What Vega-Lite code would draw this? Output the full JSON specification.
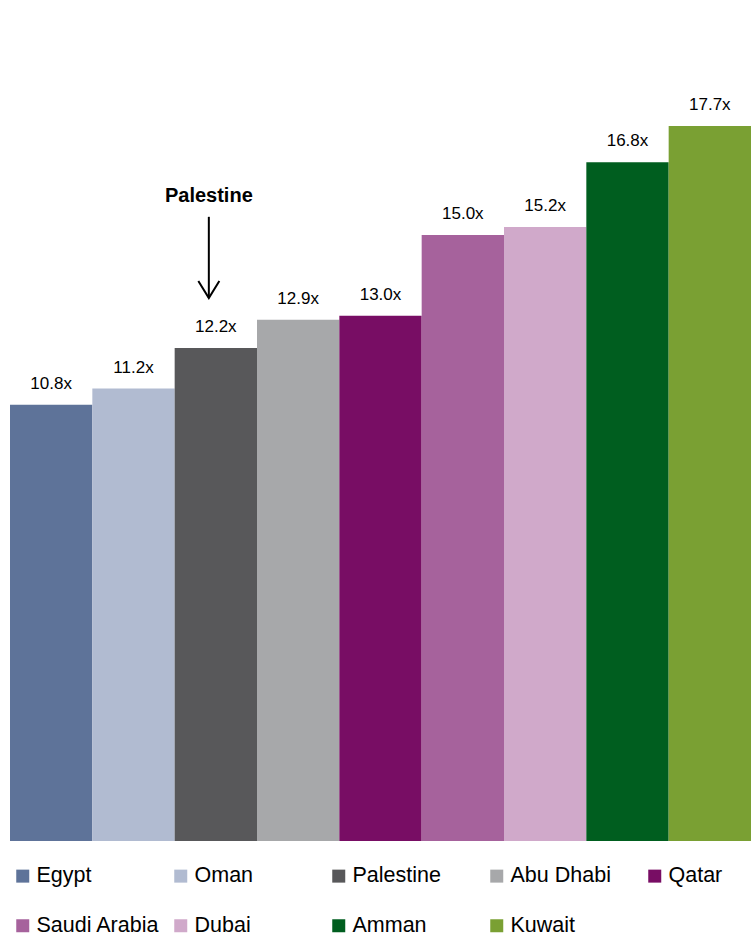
{
  "$schema": "https://vega.github.io/schema/vega-lite/v6.json",
  "width": 741,
  "height": 808,
  "autosize": {"type": "none"},
  "padding": {"left": 10, "top": 33, "right": 0, "bottom": 95},
  "background": "white",
  "config": {
    "view": {"stroke": null},
    "font": "Liberation Sans",
    "legend": {"gridAlign": "all"}
  },
  "datasets": {
    "multiples": [
      {"market": "Egypt", "pe": 10.8},
      {"market": "Oman", "pe": 11.2},
      {"market": "Palestine", "pe": 12.2},
      {"market": "Abu Dhabi", "pe": 12.9},
      {"market": "Qatar", "pe": 13.0},
      {"market": "Saudi Arabia", "pe": 15.0},
      {"market": "Dubai", "pe": 15.2},
      {"market": "Amman", "pe": 16.8},
      {"market": "Kuwait", "pe": 17.7}
    ],
    "callout": [
      {"market": "Palestine", "caption": "Palestine", "arrow_top": 15.45, "arrow_tip": 13.44, "caption_y": 15.82}
    ]
  },
  "layer": [
    {
      "data": {"name": "multiples"},
      "mark": {"type": "bar"},
      "encoding": {
        "x": {
          "field": "market", "type": "nominal", "sort": null,
          "scale": {"domain": ["Egypt", "Oman", "Palestine", "Abu Dhabi", "Qatar", "Saudi Arabia", "Dubai", "Amman", "Kuwait"], "paddingInner": 0, "paddingOuter": 0},
          "axis": null
        },
        "y": {"field": "pe", "type": "quantitative", "scale": {"domain": [0, 20], "nice": false}, "axis": null},
        "color": {
          "field": "market", "type": "nominal",
          "scale": {
            "domain": ["Egypt", "Oman", "Palestine", "Abu Dhabi", "Qatar", "Saudi Arabia", "Dubai", "Amman", "Kuwait"],
            "range": ["#5E7399", "#B1BBD1", "#58585A", "#A7A8AA", "#780D64", "#A6629C", "#D0A9CA", "#005E1F", "#7AA033"]
          },
          "legend": {
            "orient": "none",
            "legendX": 2,
            "legendY": 832,
            "direction": "horizontal",
            "columns": 5,
            "columnPadding": 10,
            "rowPadding": 27,
            "title": null,
            "symbolType": "square",
            "symbolSize": 169,
            "symbolStrokeWidth": 0,
            "symbolOpacity": 1,
            "labelFont": "Liberation Sans",
            "labelFontSize": 21.5,
            "labelColor": "#000000",
            "labelOffset": 3,
            "labelLimit": 300
          }
        }
      }
    },
    {
      "data": {"name": "multiples"},
      "transform": [{"calculate": "format(datum.pe, '.1f') + 'x'", "as": "pe_label"}],
      "mark": {"type": "text", "baseline": "alphabetic", "dy": -16, "fontSize": 17, "color": "#000000"},
      "encoding": {
        "x": {"field": "market", "type": "nominal", "sort": null},
        "y": {"field": "pe", "type": "quantitative"},
        "text": {"field": "pe_label"}
      }
    },
    {
      "data": {"name": "callout"},
      "mark": {"type": "rule", "color": "#000000", "strokeWidth": 2, "xOffset": -7},
      "encoding": {
        "x": {"field": "market", "type": "nominal", "sort": null},
        "y": {"field": "arrow_top", "type": "quantitative"},
        "y2": {"field": "arrow_tip"}
      }
    },
    {
      "data": {"name": "callout"},
      "mark": {"type": "point", "shape": "M-1.05,-1.7L0,0L1.05,-1.7", "size": 400, "filled": false, "stroke": "#000000", "strokeWidth": 2, "opacity": 1, "xOffset": -7},
      "encoding": {
        "x": {"field": "market", "type": "nominal", "sort": null},
        "y": {"field": "arrow_tip", "type": "quantitative"}
      }
    },
    {
      "data": {"name": "callout"},
      "mark": {"type": "text", "baseline": "alphabetic", "fontSize": 20, "fontWeight": "bold", "color": "#000000", "xOffset": -7},
      "encoding": {
        "x": {"field": "market", "type": "nominal", "sort": null},
        "y": {"field": "caption_y", "type": "quantitative"},
        "text": {"field": "caption"}
      }
    }
  ]
}
